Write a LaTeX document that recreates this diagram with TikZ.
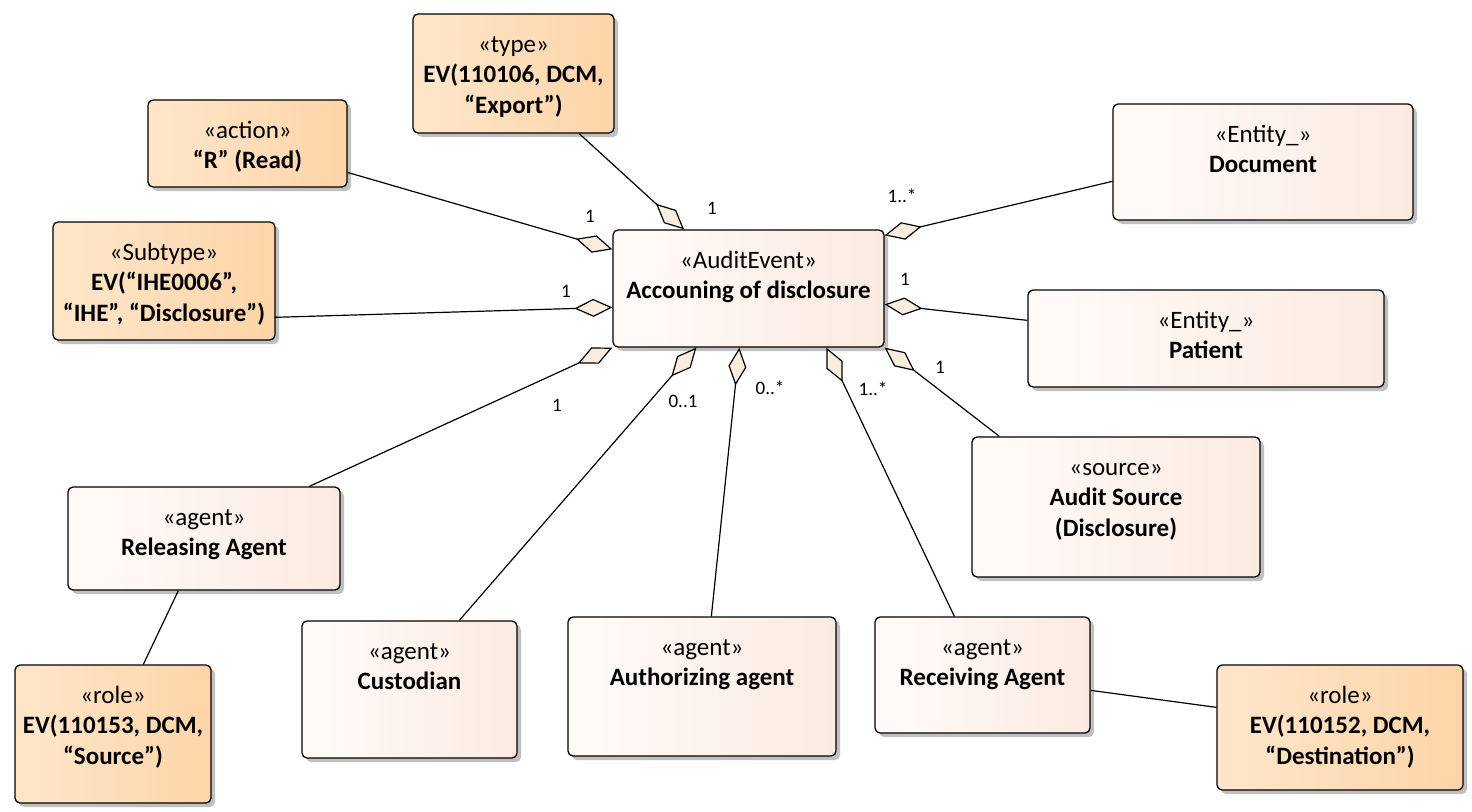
\documentclass[tikz,border=0pt]{standalone}
\usepackage{fontspec}
\setmainfont{Carlito}
\usetikzlibrary{arrows.meta,shadows,calc}
\definecolor{pkA}{HTML}{F4DCCE}
\definecolor{pkB}{HTML}{FFFAF7}
\definecolor{pkC}{HTML}{F8E1D4}
\definecolor{orA}{HTML}{F9D1A6}
\definecolor{orB}{HTML}{FEE5C8}
\definecolor{orC}{HTML}{FCCB95}
\definecolor{dmd}{HTML}{F9EEDD}
\pgfdeclarehorizontalshading{peachsh}{100bp}{color(0bp)=(pkA); color(18bp)=(pkB); color(30bp)=(pkB); color(100bp)=(pkC)}
\pgfdeclarehorizontalshading{orangesh}{100bp}{color(0bp)=(orA); color(18bp)=(orB); color(30bp)=(orB); color(100bp)=(orC)}
\tikzset{
  boxbase/.style={draw=black, line width=1.3pt, rounded corners=5pt, inner sep=0pt,
    drop shadow={shadow xshift=4pt, shadow yshift=-4pt, fill=black!35, opacity=0.7}},
  peachbox/.style={boxbase, shading=peachsh},
  orangebox/.style={boxbase, shading=orangesh},
  boxtext/.style={align=center, font=\fontsize{25}{30.5}\selectfont, inner sep=0pt, anchor=north},
  mult/.style={font=\fontsize{19}{22}\selectfont, inner sep=0pt},
  assoc/.style={line width=1.2pt, -{Diamond[length=38pt, width=18pt, fill=dmd, line width=1.2pt]}},
  plain/.style={line width=1.2pt}
}
\newcommand{\umlbox}[7]{%
  \node[#1, minimum width={#5pt-#3pt}, minimum height={#6pt-#4pt}] (#2) at ({(#3+#5)/2},{(#4+#6)/2}) {};
  \node[boxtext] (#2-t) at ({(#3+#5)/2},{#4+16.5}) {\strut #7};
}
\begin{document}
\begin{tikzpicture}[x=1pt, y=-1pt]
\useasboundingbox[fill=white] (0,0) rectangle (1472,811);

\umlbox{orangebox}{type}{413}{14}{614}{133}{«type»\\\textbf{EV(110106, DCM,}\\\textbf{“Export”)}}
\umlbox{orangebox}{action}{148}{100}{347}{187}{«action»\\\textbf{“R” (Read)}}
\umlbox{orangebox}{subtype}{53}{222}{275}{340}{«Subtype»\\\textbf{EV(“IHE0006”,}\\\textbf{“IHE”, “Disclosure”)}}
\umlbox{peachbox}{central}{613}{230}{884}{347}{«AuditEvent»\\\textbf{Accouning of disclosure}}
\umlbox{peachbox}{document}{1113}{104}{1413}{220}{«Entity\_»\\\textbf{Document}}
\umlbox{peachbox}{patient}{1028}{290}{1384}{387}{«Entity\_»\\\textbf{Patient}}
\umlbox{peachbox}{audit}{972}{437}{1260}{577}{«source»\\\textbf{Audit Source}\\\textbf{(Disclosure)}}
\umlbox{peachbox}{releasing}{68}{487}{340}{590}{«agent»\\\textbf{Releasing Agent}}
\umlbox{orangebox}{rolesrc}{15}{665}{211}{803}{«role»\\\textbf{EV(110153, DCM,}\\\textbf{“Source”)}}
\umlbox{peachbox}{custodian}{302}{621}{517}{758}{«agent»\\\textbf{Custodian}}
\umlbox{peachbox}{authorizing}{568}{617}{836}{756}{«agent»\\\textbf{Authorizing agent}}
\umlbox{peachbox}{receiving}{875}{617}{1090}{733}{«agent»\\\textbf{Receiving Agent}}
\umlbox{orangebox}{roledst}{1217}{665}{1463}{790}{«role»\\\textbf{EV(110152, DCM,}\\\textbf{“Destination”)}}

% associations to the central node
\draw[assoc] (action) -- (central);
\draw[assoc] (type) -- (central);
\draw[assoc] ($(subtype.north west)+(222,96)$) -- ($(central.north west)+(0,78)$);
\draw[assoc] ($(document.north west)+(0,78)$) -- ($(central.north east)+(0,6)$);
\draw[assoc] ($(patient.north west)+(0,31)$) -- ($(central.north east)+(0,75)$);
\draw[assoc] ($(audit.north west)+(28,0)$) -- (central.south east);
\draw[assoc] ($(releasing.north west)+(242,0)$) -- (central.south west);
\draw[assoc] ($(custodian.north west)+(158,0)$) -- ($(central.south west)+(84,0)$);
\draw[assoc] ($(authorizing.north west)+(144,0)$) -- ($(central.south west)+(127,0)$);
\draw[assoc] ($(receiving.north west)+(80,0)$) -- ($(central.south west)+(214,0)$);
% plain links
\draw[plain] ($(releasing.south west)+(111,0)$) -- ($(rolesrc.north west)+(129,0)$);
\draw[plain] ($(receiving.north east)+(0,74)$) -- ($(roledst.north west)+(0,43)$);

% multiplicities
\node[mult] (m-type) at (712,208) {1};
\node[mult] (m-action) at (590,216) {1};
\node[mult] (m-subtype) at (566,291) {1};
\node[mult] (m-document) at (902,196) {1..*};
\node[mult] (m-patient) at (905,279) {1};
\node[mult] (m-audit) at (940,367) {1};
\node[mult] (m-releasing) at (557,405) {1};
\node[mult] (m-custodian) at (683,401) {0..1};
\node[mult] (m-authorizing) at (770,388) {0..*};
\node[mult] (m-receiving) at (873,389) {1..*};
\end{tikzpicture}
\end{document}
